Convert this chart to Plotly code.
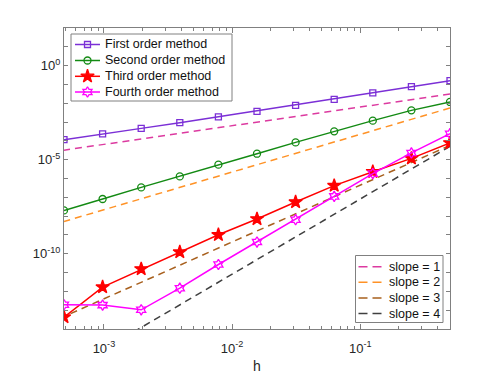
import plotly.graph_objects as go

# step sizes h = 2^-1 ... 2^-11
h = [0.5, 0.25, 0.125, 0.0625, 0.03125, 0.015625, 0.0078125,
     0.00390625, 0.001953125, 0.0009765625, 0.00048828125]

# errors
err_first = [1.59e-1, 7.64e-2, 3.53e-2, 1.61e-2, 7.73e-3, 3.71e-3,
             1.87e-3, 9.29e-4, 4.62e-4, 2.33e-4, 1.16e-4]
err_second = [1.17e-2, 4.19e-3, 1.19e-3, 3.20e-4, 8.32e-5, 2.08e-5,
              5.42e-6, 1.29e-6, 3.37e-7, 8.13e-8, 2.01e-8]
err_third = [7.73e-5, 1.17e-5, 2.29e-6, 4.17e-7, 5.62e-8, 7.08e-9,
             1.02e-9, 1.23e-10, 1.55e-11, 1.70e-12, 4.27e-14]
err_fourth = [2.40e-4, 2.29e-5, 1.82e-6, 1.12e-7, 6.46e-9, 4.17e-10,
              2.69e-11, 1.48e-12, 1.05e-13, 1.86e-13, 1.95e-13]

# reference slope lines, values at the two ends (h = 0.5 and h = 2^-11)
ref_h = [0.5, 0.00048828125]
ref_slope1 = [3.1e-2, 3.2e-5]
ref_slope2 = [5.6e-3, 5.2e-9]
ref_slope3 = [5.75e-5, 4.6e-14]
ref_slope4 = [5.1e-5, 4.7e-17]

methods = [
    ("First order method", err_first, "#7b2fd6", "square-open", 6),
    ("Second order method", err_second, "#138a13", "circle-open", 7),
    ("Third order method", err_third, "#ff0000", "star", 10),
    ("Fourth order method", err_fourth, "#ff00ff", "hexagram-open", 8),
]
refs = [
    ("slope = 1", ref_slope1, "#dc3aa0"),
    ("slope = 2", ref_slope2, "#ff9226"),
    ("slope = 3", ref_slope3, "#a8601e"),
    ("slope = 4", ref_slope4, "#404040"),
]

# the page body adds an 8px offset, so the figure is 8px smaller
OFF = 8
FW, FH = 498, 374
# plot area in window pixels (MATLAB-like layout)
L, R, T, B = 64, 450, 28, 329
W, H = R - L, B - T
def px(x):
    return (x - L) / W
def py(y):
    return (B - y) / H

axcol = "rgb(128,128,128)"
fontfam = "Liberation Sans, Arial"
dash = "7px,5px"

fig = go.Figure()

for name, yv, col in refs:
    fig.add_trace(go.Scatter(x=ref_h, y=yv, mode="lines", name=name,
                             line=dict(color=col, width=1.5, dash=dash),
                             showlegend=False))

for name, yv, col, sym, sz in methods:
    fig.add_trace(go.Scatter(x=h, y=yv, mode="lines+markers", name=name,
                             line=dict(color=col, width=1.5),
                             marker=dict(symbol=sym, size=sz, color=col,
                                         line=dict(color=col, width=1.3)),
                             showlegend=False))

# ---- hand-made legends (MATLAB style, tighter rows than plotly's legend) ----
shapes = []
annots = []

def legend_box(x0, x1, y0, y1):
    shapes.append(dict(type="rect", xref="paper", yref="paper", layer="below",
                       x0=px(x0), x1=px(x1), y0=py(y1), y1=py(y0),
                       fillcolor="white", line=dict(color=axcol, width=1)))

# legend 1: methods
legend_box(71, 232, 34, 101)
rows1 = [44.5, 60.5, 76.3, 92]
for (name, yv, col, sym, sz), ry in zip(methods, rows1):
    fig.add_trace(go.Scatter(x=[px(75), px(100)], y=[py(ry), py(ry)],
                             xaxis="x2", yaxis="y2", mode="lines",
                             line=dict(color=col, width=1.5),
                             showlegend=False, hoverinfo="skip"))
    fig.add_trace(go.Scatter(x=[px(87.5)], y=[py(ry)],
                             xaxis="x2", yaxis="y2", mode="markers",
                             marker=dict(symbol=sym, size=sz, color=col,
                                         line=dict(color=col, width=1.3)),
                             showlegend=False, hoverinfo="skip"))
    annots.append(dict(x=px(103), y=py(ry), xref="paper", yref="paper",
                       text=name, showarrow=False, xanchor="left",
                       yanchor="middle",
                       font=dict(family=fontfam, size=12.5, color="#111111")))

# legend 2: slope lines
legend_box(355.5, 443, 255.5, 322.5)
rows2 = [266.7, 282.3, 297.9, 313.6]
for (name, yv, col), ry in zip(refs, rows2):
    fig.add_trace(go.Scatter(x=[px(358.5), px(382)], y=[py(ry), py(ry)],
                             xaxis="x2", yaxis="y2", mode="lines",
                             line=dict(color=col, width=1.5, dash="9px,5px"),
                             showlegend=False, hoverinfo="skip"))
    annots.append(dict(x=px(386.5), y=py(ry), xref="paper", yref="paper",
                       text=name, showarrow=False, xanchor="left",
                       yanchor="middle",
                       font=dict(family=fontfam, size=12.5, color="#111111")))

tickfont = dict(family=fontfam, size=13, color="#262626")

x_major = [1e-3, 1e-2, 1e-1]
x_minor = [m * 10.0 ** e for e in (-4, -3, -2, -1) for m in range(2, 10)]
y_decades = [10.0 ** e for e in range(-14, 3)]
y_text = ["10<sup>%d</sup>" % e if e in (-10, -5, 0) else "" for e in range(-14, 3)]

fig.update_xaxes(type="log", range=[-3.3113, -0.301],
                 tickvals=x_major,
                 ticktext=["10<sup>-3</sup>", "10<sup>-2</sup>", "10<sup>-1</sup>"],
                 ticks="inside", ticklen=5, tickcolor=axcol, tickwidth=1,
                 ticklabelstandoff=7,
                 minor=dict(tickvals=x_minor, ticks="inside", ticklen=3,
                            tickcolor=axcol, tickwidth=1),
                 showline=True, linecolor=axcol, linewidth=1, mirror="ticks",
                 showgrid=False, zeroline=False, tickfont=tickfont,
                 automargin=False,
                 title=dict(text="h", font=dict(family=fontfam, size=14,
                                                color="#262626"),
                            standoff=9))
fig.update_yaxes(type="log", range=[-14, 2],
                 tickvals=y_decades, ticktext=y_text,
                 ticks="inside", ticklen=4, tickcolor=axcol, tickwidth=1,
                 showline=True, linecolor=axcol, linewidth=1, mirror="ticks",
                 showgrid=False, zeroline=False, tickfont=tickfont,
                 automargin=False)

fig.update_layout(
    width=FW - OFF, height=FH - OFF,
    margin=dict(l=L - OFF, r=FW - R, t=T - OFF, b=FH - B),
    paper_bgcolor="white", plot_bgcolor="white",
    showlegend=False,
    xaxis2=dict(overlaying="x", range=[0, 1], visible=False, fixedrange=True),
    yaxis2=dict(overlaying="y", range=[0, 1], visible=False, fixedrange=True),
    shapes=shapes,
    annotations=annots,
)

fig.write_html("out.html")
